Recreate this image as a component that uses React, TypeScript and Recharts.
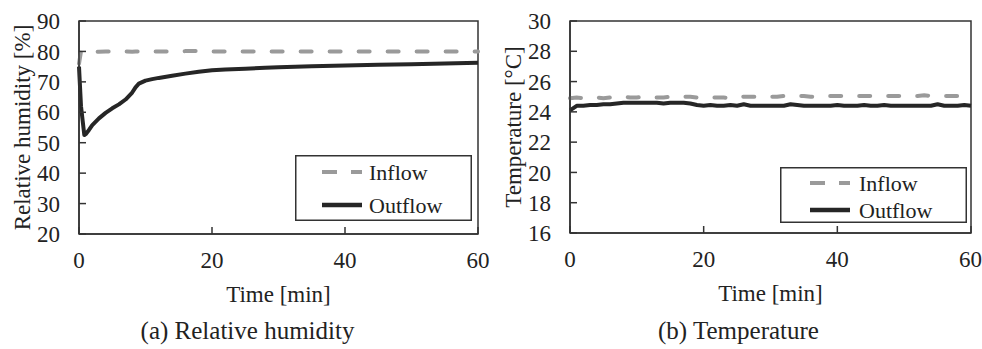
import React from 'react';
import { LineChart, Line, XAxis, YAxis, ReferenceArea, Label } from 'recharts';

const FONT = 'Liberation Serif, DejaVu Serif, serif';
const AXIS = '#333333';
const INFLOW = '#9a9a9a';
const OUTFLOW = '#262626';

// (a) relative humidity
const rhTime = [0, 0.3, 0.8, 1, 1.5, 2, 3, 4, 5, 6, 7, 8, 8.5, 9, 10, 11, 12, 14, 16, 18, 20, 22, 25, 28, 30, 35, 40, 45, 50, 55, 60];
const rhInflow = [76, 80, 80, 80, 80, 80, 79.9, 80, 80, 80, 80, 79.9, 80, 80, 80, 80, 80, 80, 80.1, 80.1, 80, 80, 80, 80, 80, 80, 80, 80, 80, 80, 80];
const rhOutflow = [75, 62, 52.5, 52.8, 54.2, 55.8, 58, 59.8, 61.3, 62.6, 64.2, 66.5, 68.2, 69.4, 70.4, 70.9, 71.3, 72.0, 72.7, 73.3, 73.8, 74.1, 74.3, 74.6, 74.8, 75.1, 75.4, 75.6, 75.8, 76.0, 76.3];
const rhTicks = [20, 30, 40, 50, 60, 70, 80, 90];

// (b) temperature, one reading per minute
const tTime = Array.from({ length: 61 }, (_, i) => i);
const tInflow = [
  24.9, 24.95, 24.9, 24.95, 24.95, 24.9, 24.95, 25.0, 25.0, 24.95,
  24.95, 25.0, 24.95, 24.95, 24.95, 25.0, 24.95, 25.0, 25.0, 24.95,
  24.95, 24.95, 24.95, 24.95, 24.9, 24.95, 25.0, 25.0, 25.0, 25.0,
  25.0, 25.0, 25.05, 25.05, 25.05, 25.05, 25.0, 25.0, 25.05, 25.05,
  25.05, 25.05, 25.05, 25.05, 25.05, 25.05, 25.05, 25.05, 25.05, 25.05,
  25.05, 25.05, 25.05, 25.1, 25.05, 25.05, 25.05, 25.05, 25.05, 25.05,
  25.05,
];
const tOutflow = [
  24.1, 24.4, 24.4, 24.45, 24.45, 24.5, 24.5, 24.55, 24.6, 24.6,
  24.6, 24.6, 24.6, 24.6, 24.55, 24.6, 24.6, 24.6, 24.55, 24.45,
  24.4, 24.45, 24.4, 24.4, 24.45, 24.4, 24.5, 24.4, 24.4, 24.4,
  24.4, 24.4, 24.4, 24.5, 24.45, 24.4, 24.4, 24.4, 24.4, 24.4,
  24.45, 24.4, 24.4, 24.4, 24.45, 24.4, 24.4, 24.45, 24.4, 24.4,
  24.4, 24.4, 24.4, 24.4, 24.4, 24.5, 24.4, 24.4, 24.4, 24.45,
  24.4,
];
const tTicks = [16, 18, 20, 22, 24, 26, 28, 30];

const timeTicks = [0, 20, 40, 60];

type Row = { t: number; inflow: number; outflow: number };

const rhData: Row[] = rhTime.map((t, i) => ({ t, inflow: rhInflow[i], outflow: rhOutflow[i] }));
const tData: Row[] = tTime.map((t, i) => ({ t, inflow: tInflow[i], outflow: tOutflow[i] }));

const textStyle = { fill: '#222', fontSize: 23, fontFamily: FONT };
const legendText = { fill: '#222', fontSize: 22, fontFamily: FONT };

interface LegendBoxProps {
  box: { left: number; top: number; width: number; height: number };
  rows: [number, number];
  sampleX: number;
  textX: number;
}

// legend drawn as a plain overlay so it doesn't eat into the plot area
const LegendBox = ({ box, rows, sampleX, textX }: LegendBoxProps) => (
  <svg style={{ position: 'absolute', left: box.left, top: box.top }} width={box.width} height={box.height}>
    <rect x={0.75} y={0.75} width={box.width - 1.5} height={box.height - 1.5} fill="#fff" stroke={AXIS} strokeWidth={1.5} />
    <line x1={sampleX} x2={sampleX + 40} y1={rows[0]} y2={rows[0]} stroke={INFLOW} strokeWidth={4} strokeDasharray="15 14" />
    <line x1={sampleX} x2={sampleX + 40} y1={rows[1]} y2={rows[1]} stroke={OUTFLOW} strokeWidth={4.5} />
    <text x={textX} y={rows[0]} dominantBaseline="central" style={legendText}>Inflow</text>
    <text x={textX} y={rows[1]} dominantBaseline="central" style={legendText}>Outflow</text>
  </svg>
);

interface PanelProps {
  data: Row[];
  domain: [number, number];
  yTicks: number[];
  yTitle: string;
  caption: string;
  plotBottom: number;
  rightMargin: number;
  legendBox: { left: number; top: number; width: number; height: number };
  legendRows: [number, number];
  sampleX: number;
  textX: number;
}

const Panel = ({ data, domain, yTicks, yTitle, caption, plotBottom, rightMargin, legendBox, legendRows, sampleX, textX }: PanelProps) => {
  const xAxisHeight = 40;
  const bottomMargin = 349 - plotBottom - xAxisHeight;
  return (
    <div style={{ position: 'relative', width: 491, height: 349 }}>
      <LineChart width={491} height={349} data={data} margin={{ top: 21, right: rightMargin, bottom: bottomMargin, left: 0 }}>
        <XAxis
          dataKey="t"
          type="number"
          domain={[0, 60]}
          ticks={timeTicks}
          tickSize={-7}
          tickMargin={25}
          height={xAxisHeight}
          stroke={AXIS}
          strokeWidth={1.5}
          tick={textStyle}
        >
          <Label value="Time [min]" position="bottom" offset={12} style={textStyle} />
        </XAxis>
        <YAxis
          type="number"
          domain={domain}
          ticks={yTicks}
          tickSize={-7}
          tickMargin={26}
          width={79}
          stroke={AXIS}
          strokeWidth={1.5}
          interval={0}
          tick={textStyle}
        >
          <Label value={yTitle} angle={-90} position="insideLeft" offset={22} style={{ ...textStyle, textAnchor: 'middle' }} />
        </YAxis>
        <ReferenceArea x1={0} x2={60} y1={domain[0]} y2={domain[1]} fill="none" fillOpacity={0} stroke={AXIS} strokeWidth={1.5} ifOverflow="visible" />
        <Line dataKey="inflow" name="Inflow" stroke={INFLOW} strokeWidth={4} strokeDasharray="11 18" strokeLinecap="round" dot={false} isAnimationActive={false} type="linear" />
        <Line dataKey="outflow" name="Outflow" stroke={OUTFLOW} strokeWidth={4} strokeLinejoin="round" dot={false} isAnimationActive={false} type="linear" />
      </LineChart>
      <LegendBox box={legendBox} rows={legendRows} sampleX={sampleX} textX={textX} />
      <div style={{ position: 'absolute', left: 2, width: 491, top: 317, textAlign: 'center', fontFamily: FONT, fontSize: 25, color: '#222', lineHeight: '28px' }}>
        {caption}
      </div>
    </div>
  );
};

export default function App() {
  return (
    <div style={{ position: 'absolute', left: 0, top: 0, width: 982, height: 349, background: '#fff', display: 'flex' }}>
      <Panel
        data={rhData}
        domain={[20, 90]}
        yTicks={rhTicks}
        yTitle="Relative humidity [%]"
        caption="(a) Relative humidity"
        plotBottom={234}
        rightMargin={13}
        legendBox={{ left: 295, top: 155, width: 177, height: 66 }}
        legendRows={[17, 50]}
        sampleX={27}
        textX={74}
      />
      <Panel
        data={tData}
        domain={[16, 30]}
        yTicks={tTicks}
        yTitle="Temperature [°C]"
        caption="(b) Temperature"
        plotBottom={233}
        rightMargin={11}
        legendBox={{ left: 289, top: 167, width: 187, height: 56 }}
        legendRows={[16, 43]}
        sampleX={30}
        textX={79}
      />
    </div>
  );
}
